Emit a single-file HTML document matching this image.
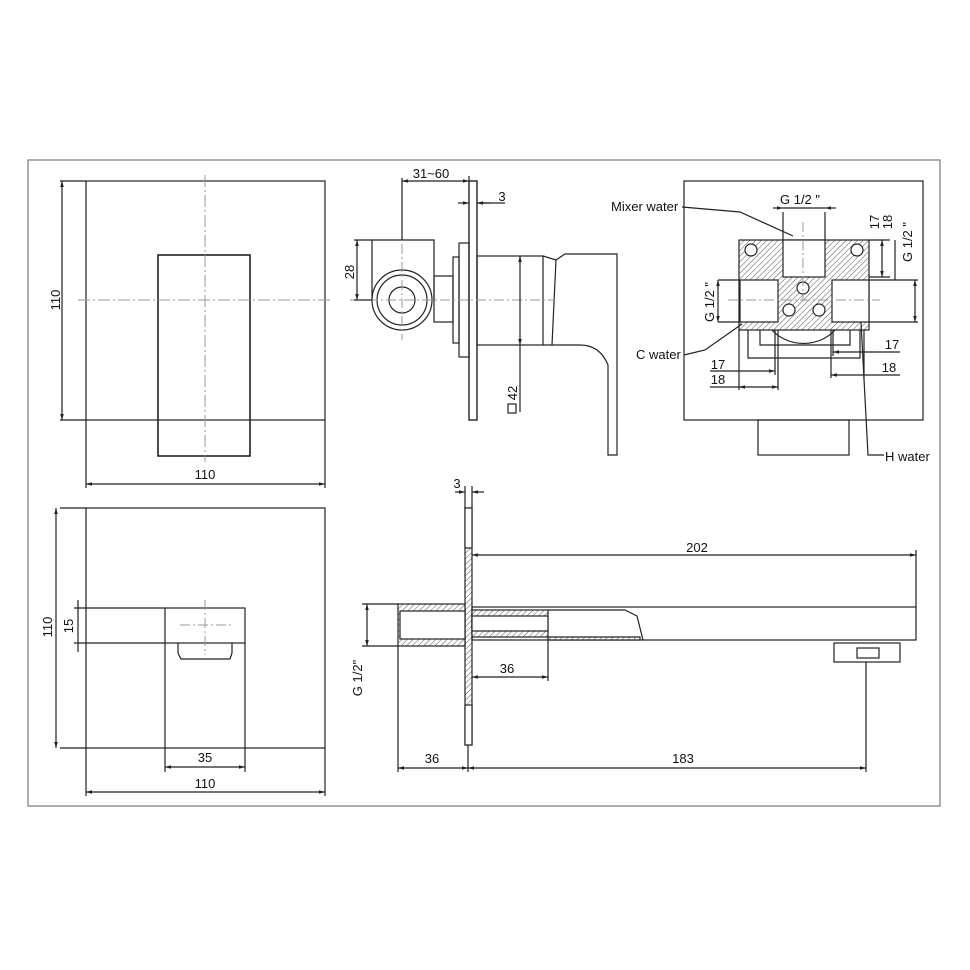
<!DOCTYPE html>
<html><head><style>
html,body{margin:0;padding:0;background:#fff;}
svg{display:block;}
text{font-family:"Liberation Sans",Arial,sans-serif;font-size:13px;fill:#111;}
</style></head><body>
<svg width="970" height="970" viewBox="0 0 970 970" xmlns="http://www.w3.org/2000/svg">
<defs>
<pattern id="h" width="4" height="4" patternUnits="userSpaceOnUse" patternTransform="rotate(45)">
<rect width="4" height="4" fill="#fff"/><line x1="0" y1="0" x2="0" y2="4" stroke="#555" stroke-width="1"/></pattern>
<marker id="a" viewBox="0 0 10 10" refX="10" refY="5" markerWidth="7" markerHeight="5" orient="auto-start-reverse"><path d="M0,2 L10,5 L0,8z" fill="#222"/></marker>
</defs>
<g fill="none" stroke="#222" stroke-width="1.2">
<rect x="28" y="160" width="912" height="646" stroke="#777"/>

<!-- top-left -->
<rect x="86" y="181" width="239" height="239"/>
<rect x="158" y="255" width="92" height="201" stroke-width="1.6"/>
<g stroke="#999" stroke-width="1" stroke-dasharray="12 3 2 3"><line x1="205" y1="175" x2="205" y2="462"/><line x1="78" y1="300" x2="332" y2="300"/></g>
<line x1="60" y1="181" x2="86" y2="181"/><line x1="60" y1="420" x2="86" y2="420"/>
<line x1="62" y1="181" x2="62" y2="420" marker-start="url(#a)" marker-end="url(#a)"/>
<line x1="86" y1="420" x2="86" y2="488"/><line x1="325" y1="420" x2="325" y2="488"/>
<line x1="86" y1="484" x2="325" y2="484" marker-start="url(#a)" marker-end="url(#a)"/>

<!-- bottom-left -->
<rect x="86" y="508" width="239" height="240"/>
<rect x="165" y="608" width="80" height="35"/>
<path d="M178,643 v10 l3,6 h49 l2,-6 v-10"/>
<g stroke="#999" stroke-width="1" stroke-dasharray="10 3 2 3"><line x1="205" y1="600" x2="205" y2="655"/><line x1="180" y1="625" x2="232" y2="625"/></g>
<line x1="60" y1="508" x2="86" y2="508"/><line x1="60" y1="748" x2="86" y2="748"/>
<line x1="56" y1="508" x2="56" y2="748" marker-start="url(#a)" marker-end="url(#a)"/>
<line x1="74" y1="608" x2="165" y2="608"/><line x1="74" y1="643" x2="165" y2="643"/>
<line x1="78" y1="600" x2="78" y2="652"/>
<line x1="165" y1="643" x2="165" y2="772"/><line x1="245" y1="643" x2="245" y2="772"/>
<line x1="165" y1="767" x2="245" y2="767" marker-start="url(#a)" marker-end="url(#a)"/>
<line x1="86" y1="748" x2="86" y2="796"/><line x1="325" y1="748" x2="325" y2="796"/>
<line x1="86" y1="792" x2="325" y2="792" marker-start="url(#a)" marker-end="url(#a)"/>

<!-- top-middle side view -->
<rect x="469" y="181" width="8" height="239" stroke-width="1.4"/>
<rect x="459" y="243" width="10" height="114"/>
<rect x="453" y="257" width="6" height="86"/>
<rect x="477" y="256" width="66" height="89"/>
<path d="M543,256 L556,260 L565,254 L617,254 L617,455 L608,455 L608,365 Q600,345 580,345 L552,345 L543,345"/>
<path d="M556,260 L552,345"/>
<path d="M372,300 V240 H434 V300"/>
<circle cx="402" cy="300" r="30"/><circle cx="402" cy="300" r="25"/><circle cx="402" cy="300" r="13"/>
<rect x="434" y="276" width="19" height="46"/>
<g stroke="#999" stroke-width="1" stroke-dasharray="10 3 2 3"><line x1="350" y1="300" x2="555" y2="300"/><line x1="402" y1="190" x2="402" y2="340"/></g>
<line x1="402" y1="181" x2="469" y2="181" marker-start="url(#a)" marker-end="url(#a)"/>
<line x1="402" y1="178" x2="402" y2="240"/><line x1="469" y1="176" x2="469" y2="181"/>
<line x1="458" y1="203" x2="469" y2="203" marker-end="url(#a)"/><line x1="490" y1="203" x2="477" y2="203" marker-end="url(#a)"/>
<line x1="477" y1="203" x2="505" y2="203"/>
<line x1="354" y1="240" x2="372" y2="240"/><line x1="354" y1="300" x2="372" y2="300"/>
<line x1="357" y1="240" x2="357" y2="300" marker-start="url(#a)" marker-end="url(#a)"/>
<line x1="520" y1="256" x2="520" y2="345" marker-start="url(#a)" marker-end="url(#a)"/>
<line x1="520" y1="345" x2="520" y2="412"/>
<rect x="508" y="404" width="8" height="9"/>

<!-- top-right -->
<rect x="684" y="181" width="239" height="239"/>
<rect x="758" y="420" width="91" height="35"/>
<path d="M748,330 V358 H860 V330"/><path d="M760,330 V345 H850 V330"/>
<path d="M772,330 A40,35 0 0 0 835,330"/>
<rect x="739" y="240" width="130" height="90" fill="url(#h)"/>
<rect x="783" y="240" width="42" height="37" fill="#fff"/>
<rect x="740" y="280" width="38" height="42" fill="#fff"/>
<rect x="832" y="280" width="37" height="42" fill="#fff"/>
<circle cx="751" cy="250" r="6" fill="#fff"/><circle cx="857" cy="250" r="6" fill="#fff"/>
<circle cx="803" cy="288" r="6" fill="#fff"/><circle cx="789" cy="310" r="6" fill="#fff"/><circle cx="819" cy="310" r="6" fill="#fff"/>
<g stroke="#999" stroke-width="1" stroke-dasharray="10 3 2 3"><line x1="803" y1="222" x2="803" y2="300"/><line x1="728" y1="300" x2="880" y2="300"/></g>
<line x1="783" y1="212" x2="783" y2="240"/><line x1="825" y1="212" x2="825" y2="240"/>
<line x1="773" y1="208" x2="783" y2="208" marker-end="url(#a)"/><line x1="836" y1="208" x2="825" y2="208" marker-end="url(#a)"/><line x1="783" y1="208" x2="825" y2="208"/>
<line x1="869" y1="240" x2="890" y2="240"/><line x1="869" y1="277" x2="890" y2="277"/>
<line x1="882" y1="240" x2="882" y2="277" marker-start="url(#a)" marker-end="url(#a)"/>
<line x1="895" y1="240" x2="895" y2="280"/>
<line x1="869" y1="280" x2="918" y2="280"/><line x1="869" y1="322" x2="918" y2="322"/>
<line x1="915" y1="280" x2="915" y2="322" marker-start="url(#a)" marker-end="url(#a)"/>
<line x1="718" y1="280" x2="740" y2="280"/><line x1="718" y1="322" x2="740" y2="322"/>
<line x1="718" y1="280" x2="718" y2="322" marker-start="url(#a)" marker-end="url(#a)"/>
<line x1="739" y1="330" x2="739" y2="390"/><line x1="775" y1="330" x2="775" y2="375"/><line x1="778" y1="330" x2="778" y2="390"/>
<line x1="710" y1="371" x2="775" y2="371" marker-end="url(#a)"/>
<line x1="710" y1="387" x2="778" y2="387" marker-end="url(#a)"/><line x1="739" y1="387" x2="745" y2="387" marker-start="url(#a)"/>
<line x1="833" y1="330" x2="833" y2="356"/><line x1="831" y1="330" x2="831" y2="378"/><line x1="864" y1="330" x2="864" y2="378"/>
<line x1="833" y1="352" x2="900" y2="352" marker-start="url(#a)"/>
<line x1="831" y1="375" x2="900" y2="375" marker-start="url(#a)"/>
<polyline points="682,207 740,212 793,236"/>
<polyline points="684,355 705,350 742,324"/>
<polyline points="861,322 868,455 884,455"/>

<!-- bottom-middle spout -->
<rect x="465" y="508" width="7" height="237" fill="url(#h)"/>
<rect x="465" y="508" width="7" height="40" fill="#fff"/>
<rect x="465" y="705" width="7" height="40" fill="#fff"/>
<rect x="398" y="604" width="67" height="42" fill="url(#h)"/>
<rect x="400" y="611" width="65" height="28" fill="#fff"/>
<rect x="472" y="607" width="444" height="33"/>
<rect x="472" y="610" width="76" height="27" fill="url(#h)"/>
<rect x="472" y="616" width="76" height="15" fill="#fff"/>
<path d="M548,637 H640 V640 H548z" fill="url(#h)"/>
<path d="M548,610 H625 L637,616 L643,640"/>
<rect x="834" y="643" width="66" height="19"/><rect x="857" y="648" width="22" height="10"/>
<line x1="472" y1="555" x2="916" y2="555" marker-start="url(#a)" marker-end="url(#a)"/>
<line x1="916" y1="550" x2="916" y2="607"/>
<line x1="455" y1="492" x2="465" y2="492" marker-end="url(#a)"/><line x1="484" y1="492" x2="472" y2="492" marker-end="url(#a)"/>
<line x1="465" y1="486" x2="465" y2="508"/><line x1="472" y1="486" x2="472" y2="508"/>
<line x1="548" y1="640" x2="548" y2="681"/>
<line x1="472" y1="677" x2="548" y2="677" marker-start="url(#a)" marker-end="url(#a)"/>
<line x1="362" y1="604" x2="398" y2="604"/><line x1="362" y1="646" x2="398" y2="646"/>
<line x1="367" y1="604" x2="367" y2="646" marker-start="url(#a)" marker-end="url(#a)"/>
<line x1="398" y1="646" x2="398" y2="772"/><line x1="468" y1="745" x2="468" y2="772"/><line x1="866" y1="662" x2="866" y2="772"/>
<line x1="398" y1="768" x2="468" y2="768" marker-start="url(#a)" marker-end="url(#a)"/>
<line x1="468" y1="768" x2="866" y2="768" marker-start="url(#a)" marker-end="url(#a)"/>
</g>

<text x="205" y="479" text-anchor="middle">110</text>
<text transform="translate(60,300) rotate(-90)" text-anchor="middle">110</text>
<text transform="translate(52,627) rotate(-90)" text-anchor="middle">110</text>
<text transform="translate(73,626) rotate(-90)" text-anchor="middle">15</text>
<text x="205" y="762" text-anchor="middle">35</text>
<text x="205" y="788" text-anchor="middle">110</text>
<text x="431" y="178" text-anchor="middle">31~60</text>
<text x="502" y="201" text-anchor="middle">3</text>
<text transform="translate(354,272) rotate(-90)" text-anchor="middle">28</text>
<text transform="translate(517,393) rotate(-90)" text-anchor="middle">42</text>
<text x="800" y="204" text-anchor="middle">G 1/2 "</text>
<text x="611" y="211">Mixer water</text>
<text x="636" y="359">C water</text>
<text x="885" y="461">H water</text>
<text transform="translate(879,222) rotate(-90)" text-anchor="middle">17</text>
<text transform="translate(892,222) rotate(-90)" text-anchor="middle">18</text>
<text transform="translate(912,242) rotate(-90)" text-anchor="middle">G 1/2 "</text>
<text transform="translate(714,302) rotate(-90)" text-anchor="middle">G 1/2 "</text>
<text x="718" y="369" text-anchor="middle">17</text>
<text x="718" y="384" text-anchor="middle">18</text>
<text x="892" y="349" text-anchor="middle">17</text>
<text x="889" y="372" text-anchor="middle">18</text>
<text x="457" y="488" text-anchor="middle">3</text>
<text x="697" y="552" text-anchor="middle">202</text>
<text x="507" y="673" text-anchor="middle">36</text>
<text transform="translate(362,678) rotate(-90)" text-anchor="middle">G 1/2"</text>
<text x="432" y="763" text-anchor="middle">36</text>
<text x="683" y="763" text-anchor="middle">183</text>
</svg>
</body></html>
